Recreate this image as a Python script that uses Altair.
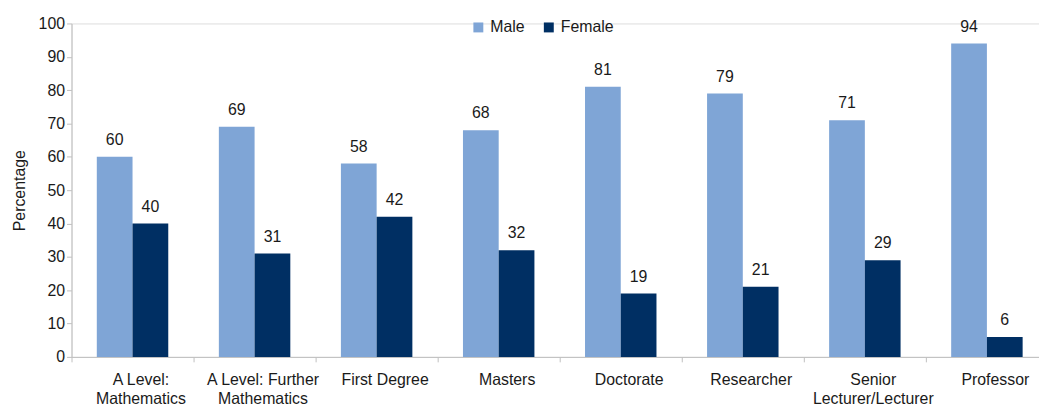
import altair as alt
import pandas as pd

categories = ["A Level:|Mathematics", "A Level: Further|Mathematics", "First Degree", "Masters",
              "Doctorate", "Researcher", "Senior|Lecturer/Lecturer", "Professor"]
male = [60, 69, 58, 68, 81, 79, 71, 94]
female = [40, 31, 42, 32, 19, 21, 29, 6]
series = ["Male", "Female"]
colors = ["#7FA5D6", "#002F63"]

rows = []
for c, m, f in zip(categories, male, female):
    rows.append({"cat": c, "gender": "Male", "value": m})
    rows.append({"cat": c, "gender": "Female", "value": f})
df = pd.DataFrame(rows)

FONT = "Liberation Sans"
FS = 16
PLOT_W = 975
BAND_RANGE = 984

x = alt.X("cat:N", sort=categories, title=None,
          scale=alt.Scale(range=[0, BAND_RANGE], paddingInner=0, paddingOuter=0),
          axis=alt.Axis(labelExpr="split(datum.label, '|')", labelAngle=0, labelFontSize=FS,
                        labelFont=FONT, labelColor="#1a1a1a", labelPadding=10, labelOffset=8,
                        labelLineHeight=19, labelBaseline="top",
                        domainColor="#BFBFBF", tickColor="#BFBFBF", tickSize=5,
                        tickBand="extent", grid=False))
xo = alt.XOffset("gender:N", sort=series, scale=alt.Scale(paddingInner=0, paddingOuter=0.708))
y = alt.Y("value:Q", title="Percentage",
          scale=alt.Scale(domain=[0, 100], nice=False),
          axis=alt.Axis(values=list(range(0, 101, 10)), labelFontSize=FS, labelFont=FONT,
                        labelColor="#1a1a1a", titleFont=FONT, titleFontSize=FS,
                        titleFontWeight="normal", titleColor="#1a1a1a", titlePadding=11,
                        domainColor="#BFBFBF", tickColor="#BFBFBF", tickSize=5,
                        labelPadding=2, grid=False))

color = alt.Color("gender:N", sort=series,
                  scale=alt.Scale(domain=series, range=colors),
                  legend=alt.Legend(title=None, orient="none", direction="horizontal",
                                    legendX=402, legendY=-4, symbolType="square",
                                    symbolSize=100, symbolStrokeWidth=0, labelFontSize=FS,
                                    labelFont=FONT, labelColor="#1a1a1a", labelOffset=4,
                                    columnPadding=16))

base = alt.Chart(df)
bars = base.mark_bar().encode(x=x, xOffset=xo, y=y, color=color)
labels = base.mark_text(fontSize=FS, font=FONT, color="#1a1a1a", baseline="alphabetic",
                        dy=-12).encode(x=x, xOffset=xo, y=y, text="value:Q")

chart = (bars + labels).properties(
    width=PLOT_W, height=336,
    autosize=alt.AutoSizeParams(type="none"),
    padding={"left": 64, "top": 14, "right": 0, "bottom": 60},
).configure_view(stroke=None).configure(background="white")

chart.save("out.html", embed_options={"renderer": "svg", "actions": False})
